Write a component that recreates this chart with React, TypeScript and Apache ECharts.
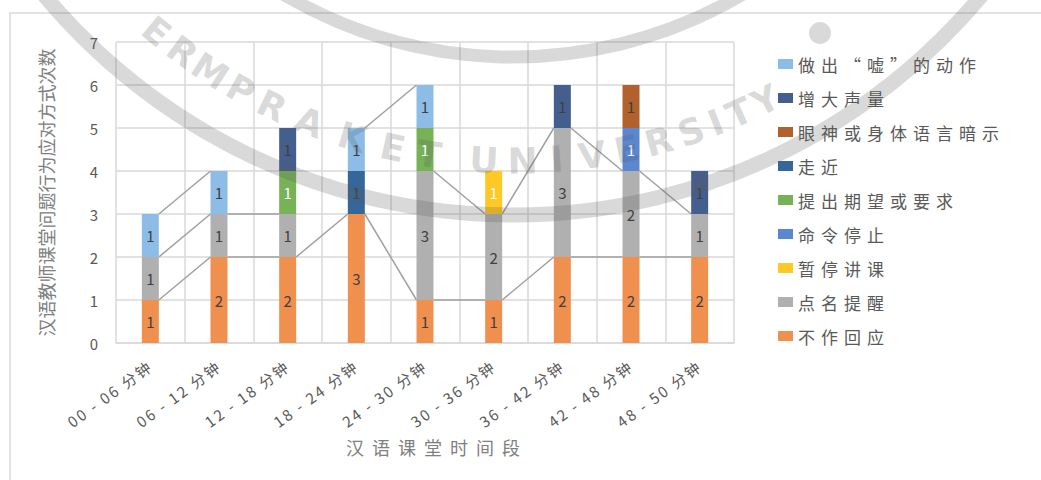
import React, { useEffect, useRef } from "react";
import * as echarts from "echarts";

const categories = [
  "00 - 06 分钟",
  "06 - 12 分钟",
  "12 - 18 分钟",
  "18 - 24 分钟",
  "24 - 30 分钟",
  "30 - 36 分钟",
  "36 - 42 分钟",
  "42 - 48 分钟",
  "48 - 50 分钟",
];

// stack order: bottom -> top
const seriesNames = [
  "不作回应",
  "点名提醒",
  "暂停讲课",
  "命令停止",
  "提出期望或要求",
  "走近",
  "眼神或身体语言暗示",
  "增大声量",
  "做出“嘘”的动作",
];
const noResponse = [1, 2, 2, 3, 1, 1, 2, 2, 2];
const callName = [1, 1, 1, null, 3, 2, 3, 2, 1];
const pauseLecture = [null, null, null, null, null, 1, null, null, null];
const orderStop = [null, null, null, null, null, null, null, 1, null];
const expectation = [null, null, 1, null, 1, null, null, null, null];
const approach = [null, null, null, 1, null, null, null, null, null];
const bodyLanguage = [null, null, null, null, null, null, null, 1, null];
const louder = [null, null, 1, null, null, null, 1, null, 1];
const shush = [1, 1, null, 1, 1, null, null, null, null];

const seriesValues = [
  noResponse,
  callName,
  pauseLecture,
  orderStop,
  expectation,
  approach,
  bodyLanguage,
  louder,
  shush,
];

const colors = [
  "#F0904F",
  "#B0B0B0",
  "#FFC825",
  "#5B86D0",
  "#77B256",
  "#35679A",
  "#B0612C",
  "#445E8E",
  "#8DBDE6",
];
const labelColors = [
  "#404040",
  "#404040",
  "#FFFFFF",
  "#FFFFFF",
  "#FFFFFF",
  "#404040",
  "#404040",
  "#404040",
  "#404040",
];

// watermark seal letters and their angles (degrees around the seal centre)
const sealLetters = ["E", "R", "M", "P", "R", "A", "K", "E", "T", "U", "N", "I", "V", "E", "R", "S", "I", "T", "Y"];
const sealAngles = [129.9, 126.5, 123.0, 119.3, 115.7, 111.5, 106.8, 102.5, 98.7, 93.0, 89.0, 85.5, 81.8, 78.2, 74.8, 71.3, 68.6, 66.0, 63.0];

const BAR_W = 17;
const FONT = "'Noto Sans CJK SC', 'Noto Sans', sans-serif";
const WM = "rgba(90,90,90,0.23)";
const SEAL_CX = 513;
const SEAL_CY = -395;

export default function App() {
  const ref = useRef<HTMLDivElement>(null);

  useEffect(() => {
    if (!ref.current) return;
    const chart = echarts.init(ref.current, undefined, { renderer: "svg" });

    const barSeries = seriesNames.map((name, si) => ({
      name,
      type: "bar",
      stack: "total",
      barWidth: BAR_W,
      data: seriesValues[si],
      itemStyle: { color: colors[si] },
      label: {
        show: true,
        position: "inside",
        color: labelColors[si],
        fontSize: 15,
        fontFamily: FONT,
      },
      z: 3,
    }));

    const pairData = categories.slice(0, -1).map((_, i) => [i, 0]);

    const seriesLines = {
      type: "custom",
      name: "seriesLines",
      silent: true,
      z: 2,
      encode: { x: 0, y: 1 },
      data: pairData,
      renderItem: (_params: any, api: any) => {
        const i = api.value(0) as number;
        const children: any[] = [];
        const half = BAR_W / 2;
        let cumA = 0;
        let cumB = 0;
        seriesValues.forEach((vals) => {
          const a = vals[i];
          const b = vals[i + 1];
          cumA += a ?? 0;
          cumB += b ?? 0;
          if (a != null && b != null) {
            const p1 = api.coord([i, cumA]);
            const p2 = api.coord([i + 1, cumB]);
            children.push({
              type: "line",
              shape: { x1: p1[0] + half, y1: p1[1], x2: p2[0] - half, y2: p2[1] },
              style: { stroke: "#A0A0A0", lineWidth: 1.5 },
            });
          }
        });
        return { type: "group", children };
      },
    };

    const letterR = 556;
    const letters = sealLetters.map((ch, k) => {
      const phi = (sealAngles[k] * Math.PI) / 180;
      return {
        type: "text",
        z: 100,
        silent: true,
        x: SEAL_CX + letterR * Math.cos(phi),
        y: SEAL_CY + letterR * Math.sin(phi),
        rotation: -(phi - Math.PI / 2),
        style: {
          text: ch,
          fill: WM,
          font: "bold 36px 'DejaVu Sans', sans-serif",
          textAlign: "center",
          textVerticalAlign: "middle",
        },
      };
    });

    chart.setOption({
      animation: false,
      backgroundColor: "#FFFFFF",
      color: colors,
      grid: { left: 116, top: 42, right: 307, bottom: 137, containLabel: false },
      legend: {
        orient: "vertical",
        left: 773,
        top: 49,
        itemWidth: 15,
        itemHeight: 10,
        itemGap: 14,
        icon: "rect",
        data: [...seriesNames].reverse(),
        textStyle: {
          fontSize: 17,
          lineHeight: 20,
          color: "#595959",
          fontFamily: "'Noto Sans CJK SC', lgspc",
        },
      },
      xAxis: {
        type: "category",
        data: categories,
        name: "汉语课堂时间段",
        nameLocation: "middle",
        nameGap: 95,
        nameTextStyle: {
          fontSize: 18,
          color: "#808080",
          padding: [0, 0, 0, 24],
          fontFamily: "'Noto Sans CJK SC', xnspc",
        },
        axisLine: { lineStyle: { color: "#D9D9D9", width: 1.5 } },
        axisTick: { show: false },
        splitLine: { show: true, lineStyle: { color: "#D9D9D9", width: 1.5 } },
        axisLabel: {
          interval: 0,
          rotate: 36,
          margin: 21,
          fontSize: 15,
          color: "#595959",
          fontFamily: "'Noto Sans CJK SC', xlspc",
        },
      },
      yAxis: {
        type: "value",
        min: 0,
        max: 7,
        interval: 1,
        name: "汉语教师课堂问题行为应对方式次数",
        nameLocation: "middle",
        nameGap: 61,
        nameRotate: 90,
        nameTextStyle: { fontSize: 18, color: "#808080", fontFamily: FONT },
        axisLine: { show: false },
        axisTick: { show: false },
        splitLine: { show: true, lineStyle: { color: "#D9D9D9", width: 1.5 } },
        axisLabel: { fontSize: 15, color: "#595959", margin: 18, fontFamily: FONT },
      },
      graphic: [
        {
          type: "rect",
          z: -10,
          shape: { x: 10, y: 13, width: 1200, height: 700 },
          style: { fill: "none", stroke: "#D9D9D9", lineWidth: 1.5 },
          silent: true,
        },
        {
          type: "circle",
          z: 100,
          shape: { cx: SEAL_CX, cy: SEAL_CY, r: 610 },
          style: { fill: "none", stroke: WM, lineWidth: 15 },
          silent: true,
        },
        {
          type: "circle",
          z: 100,
          shape: { cx: SEAL_CX, cy: SEAL_CY, r: 452 },
          style: { fill: "none", stroke: WM, lineWidth: 13 },
          silent: true,
        },
        {
          type: "circle",
          z: 100,
          shape: { cx: 820, cy: 33, r: 11 },
          style: { fill: WM },
          silent: true,
        },
        ...letters,
      ],
      series: [...barSeries, seriesLines],
    });

    return () => chart.dispose();
  }, []);

  return (
    <>
      <style>{`
        text[style*="lgspc"] { letter-spacing: 6px; }
        text[style*="xnspc"] { letter-spacing: 8px; }
        text[style*="xlspc"] { letter-spacing: 2.2px; }
      `}</style>
      <div
        ref={ref}
        style={{ position: "fixed", left: 0, top: 0, width: 1041, height: 480 }}
      />
    </>
  );
}
